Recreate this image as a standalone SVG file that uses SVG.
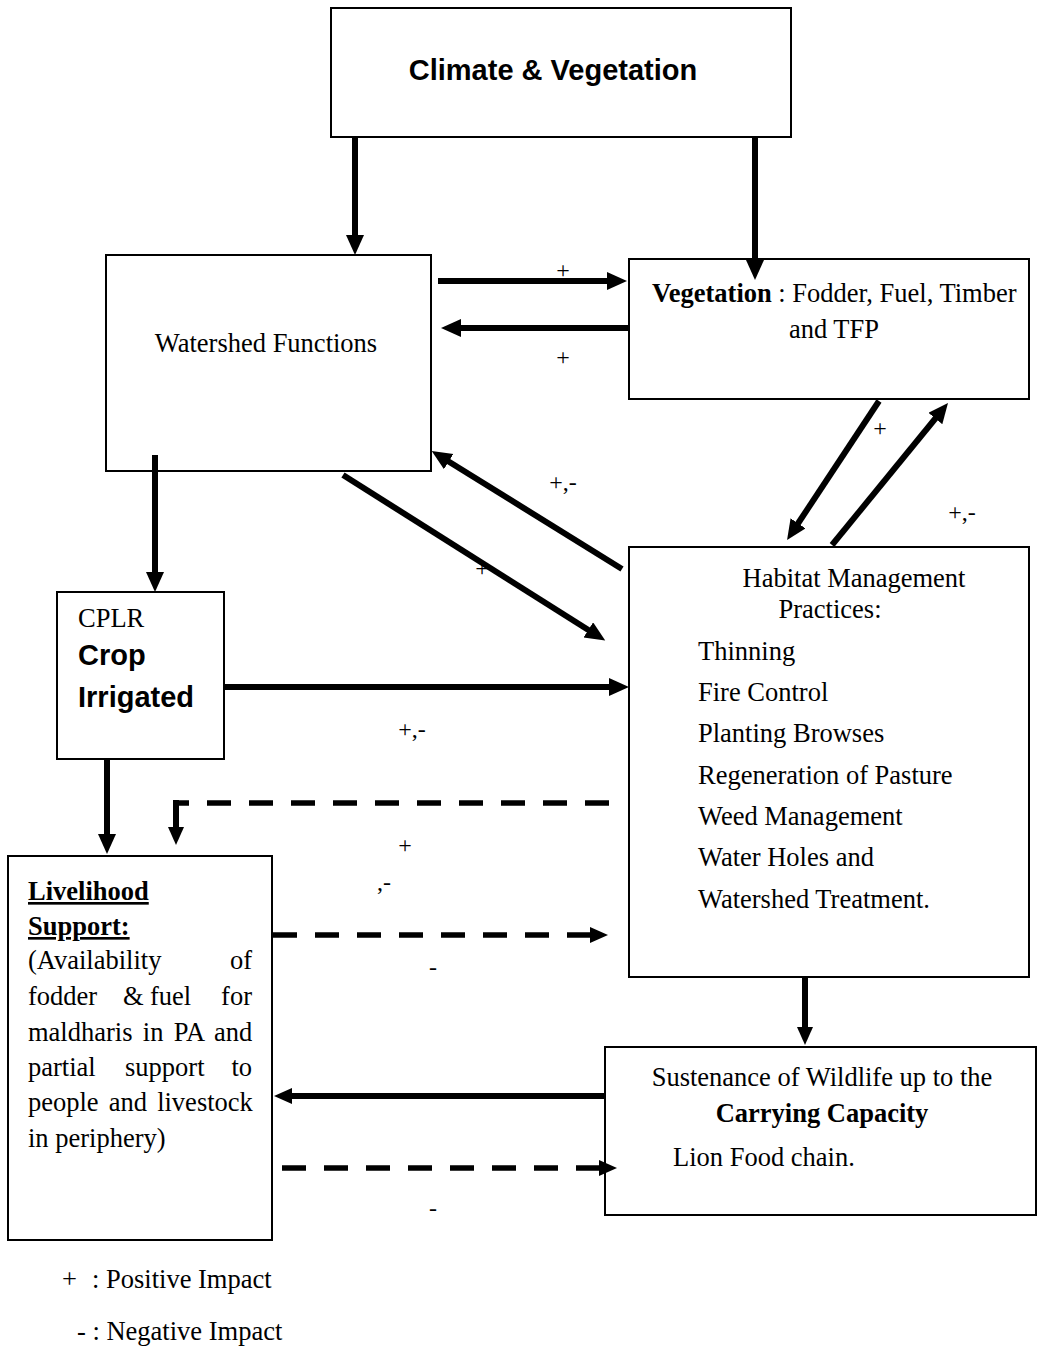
<svg xmlns="http://www.w3.org/2000/svg" width="1039" height="1346" viewBox="0 0 1039 1346">
<defs>
<style>
.box{fill:#fff;stroke:#000;stroke-width:2}
.t{font-family:"Liberation Serif","Times New Roman",serif;font-size:26.5px;fill:#000}
.a{font-family:"Liberation Sans",Arial,sans-serif;font-weight:bold;fill:#000}
.lbl{font-family:"Liberation Serif","Times New Roman",serif;font-size:24px;fill:#000}
.c{stroke:#000;stroke-width:6;fill:none}
.d{stroke:#000;stroke-width:5.5;fill:none;stroke-dasharray:24 18}
</style>
<marker id="ah" markerUnits="userSpaceOnUse" markerWidth="22" markerHeight="20" refX="2" refY="9" orient="auto">
<path d="M0,0 L20,9 L0,18 z" fill="#000"/>
</marker>
<marker id="ahs" markerUnits="userSpaceOnUse" markerWidth="22" markerHeight="20" refX="2" refY="8" orient="auto">
<path d="M0,0 L18,8 L0,16 z" fill="#000"/>
</marker>
</defs>
<rect width="1039" height="1346" fill="#fff"/>

<g id="climate">
<rect class="box" x="331" y="8" width="460" height="129"/>
<text class="a" x="553" y="80" font-size="29" text-anchor="middle">Climate &amp; Vegetation</text>
</g>

<g id="watershed">
<rect class="box" x="106" y="255" width="325" height="216"/>
<text class="t" x="266" y="352" text-anchor="middle">Watershed Functions</text>
</g>

<g id="vegetation">
<rect class="box" x="629" y="259" width="400" height="140"/>
<text class="t" x="652" y="302"><tspan font-weight="bold">Vegetation</tspan> : Fodder, Fuel, Timber</text>
<text class="t" x="834" y="338" text-anchor="middle">and TFP</text>
</g>

<g id="cplr">
<rect class="box" x="57" y="592" width="167" height="167"/>
<text class="t" x="78" y="627">CPLR</text>
<text class="a" x="78" y="665" font-size="29">Crop</text>
<text class="a" x="78" y="707" font-size="29">Irrigated</text>
</g>

<g id="habitat">
<rect class="box" x="629" y="547" width="400" height="430"/>
<text class="t" x="854" y="587" text-anchor="middle">Habitat Management</text>
<text class="t" x="830" y="618" text-anchor="middle">Practices:</text>
<text class="t" x="698" y="660">Thinning</text>
<text class="t" x="698" y="701">Fire Control</text>
<text class="t" x="698" y="742">Planting Browses</text>
<text class="t" x="698" y="784">Regeneration of Pasture</text>
<text class="t" x="698" y="825">Weed Management</text>
<text class="t" x="698" y="866">Water Holes and</text>
<text class="t" x="698" y="908">Watershed Treatment.</text>
</g>

<g id="livelihood">
<rect class="box" x="8" y="856" width="264" height="384"/>
<text class="t" x="28" y="900" font-weight="bold" text-decoration="underline">Livelihood</text>
<text class="t" x="28" y="935" font-weight="bold" text-decoration="underline">Support:</text>
<text class="t" x="28" y="969">(Availability</text>
<text class="t" x="252" y="969" text-anchor="end">of</text>
<text class="t" x="28" y="1005">fodder</text>
<text class="t" x="123" y="1005">&amp;</text>
<text class="t" x="150" y="1005">fuel</text>
<text class="t" x="252" y="1005" text-anchor="end">for</text>
<text class="t" x="28" y="1041" word-spacing="3.7">maldharis in PA and</text>
<text class="t" x="28" y="1076">partial</text>
<text class="t" x="125" y="1076">support</text>
<text class="t" x="252" y="1076" text-anchor="end">to</text>
<text class="t" x="28" y="1111" word-spacing="3.5">people and livestock</text>
<text class="t" x="28" y="1147">in periphery)</text>
</g>

<g id="sustenance">
<rect class="box" x="605" y="1047" width="431" height="168"/>
<text class="t" x="822" y="1086" text-anchor="middle">Sustenance of Wildlife up to the</text>
<text class="t" x="822" y="1122" text-anchor="middle" font-weight="bold">Carrying Capacity</text>
<text class="t" x="673" y="1166">Lion Food chain.</text>
</g>

<g id="connectors">
<line class="c" x1="355" y1="137" x2="355" y2="237" marker-end="url(#ah)"/>
<line class="c" x1="755" y1="137" x2="755" y2="262" marker-end="url(#ah)"/>
<line class="c" x1="438" y1="281" x2="609" y2="281" marker-end="url(#ah)"/>
<line class="c" x1="629" y1="328" x2="459" y2="328" marker-end="url(#ah)"/>
<line class="c" x1="879" y1="401" x2="797" y2="525" marker-end="url(#ah)"/>
<line class="c" x1="832" y1="545" x2="936.6" y2="417" marker-end="url(#ah)"/>
<line class="c" x1="622" y1="569" x2="447" y2="460.5" marker-end="url(#ah)"/>
<line class="c" x1="343" y1="475" x2="590" y2="631" marker-end="url(#ah)"/>
<line class="c" x1="155" y1="455" x2="155" y2="574" marker-end="url(#ah)"/>
<line class="c" x1="224" y1="687" x2="611" y2="687" marker-end="url(#ah)"/>
<line class="c" x1="107" y1="759" x2="107" y2="836" marker-end="url(#ah)"/>
<path class="d" d="M609,803 H176"/>
<line class="c" x1="176" y1="800" x2="176" y2="829" marker-end="url(#ahs)"/>
<path class="d" d="M273,935 H592" marker-end="url(#ahs)"/>
<line class="c" x1="805" y1="977" x2="805" y2="1029" marker-end="url(#ahs)"/>
<line class="c" x1="605" y1="1096" x2="290" y2="1096" marker-end="url(#ahs)"/>
<path class="d" d="M282,1168 H601" marker-end="url(#ahs)"/>
</g>

<g id="labels">
<text class="lbl" x="563" y="278" text-anchor="middle">+</text>
<text class="lbl" x="563" y="365" text-anchor="middle">+</text>
<text class="lbl" x="880" y="436" text-anchor="middle">+</text>
<text class="lbl" x="482" y="576" text-anchor="middle">+</text>
<text class="lbl" x="563" y="490" text-anchor="middle">+,-</text>
<text class="lbl" x="962" y="520" text-anchor="middle">+,-</text>
<text class="lbl" x="412" y="737" text-anchor="middle">+,-</text>
<text class="lbl" x="405" y="853" text-anchor="middle">+</text>
<text class="lbl" x="384" y="890" text-anchor="middle">,-</text>
<text class="lbl" x="433" y="975" text-anchor="middle">-</text>
<text class="lbl" x="433" y="1216" text-anchor="middle">-</text>
</g>

<g id="legend">
<text class="t" x="62" y="1288">+</text>
<text class="t" x="92" y="1288">: Positive Impact</text>
<text class="t" x="77" y="1340">- : Negative Impact</text>
</g>
</svg>
